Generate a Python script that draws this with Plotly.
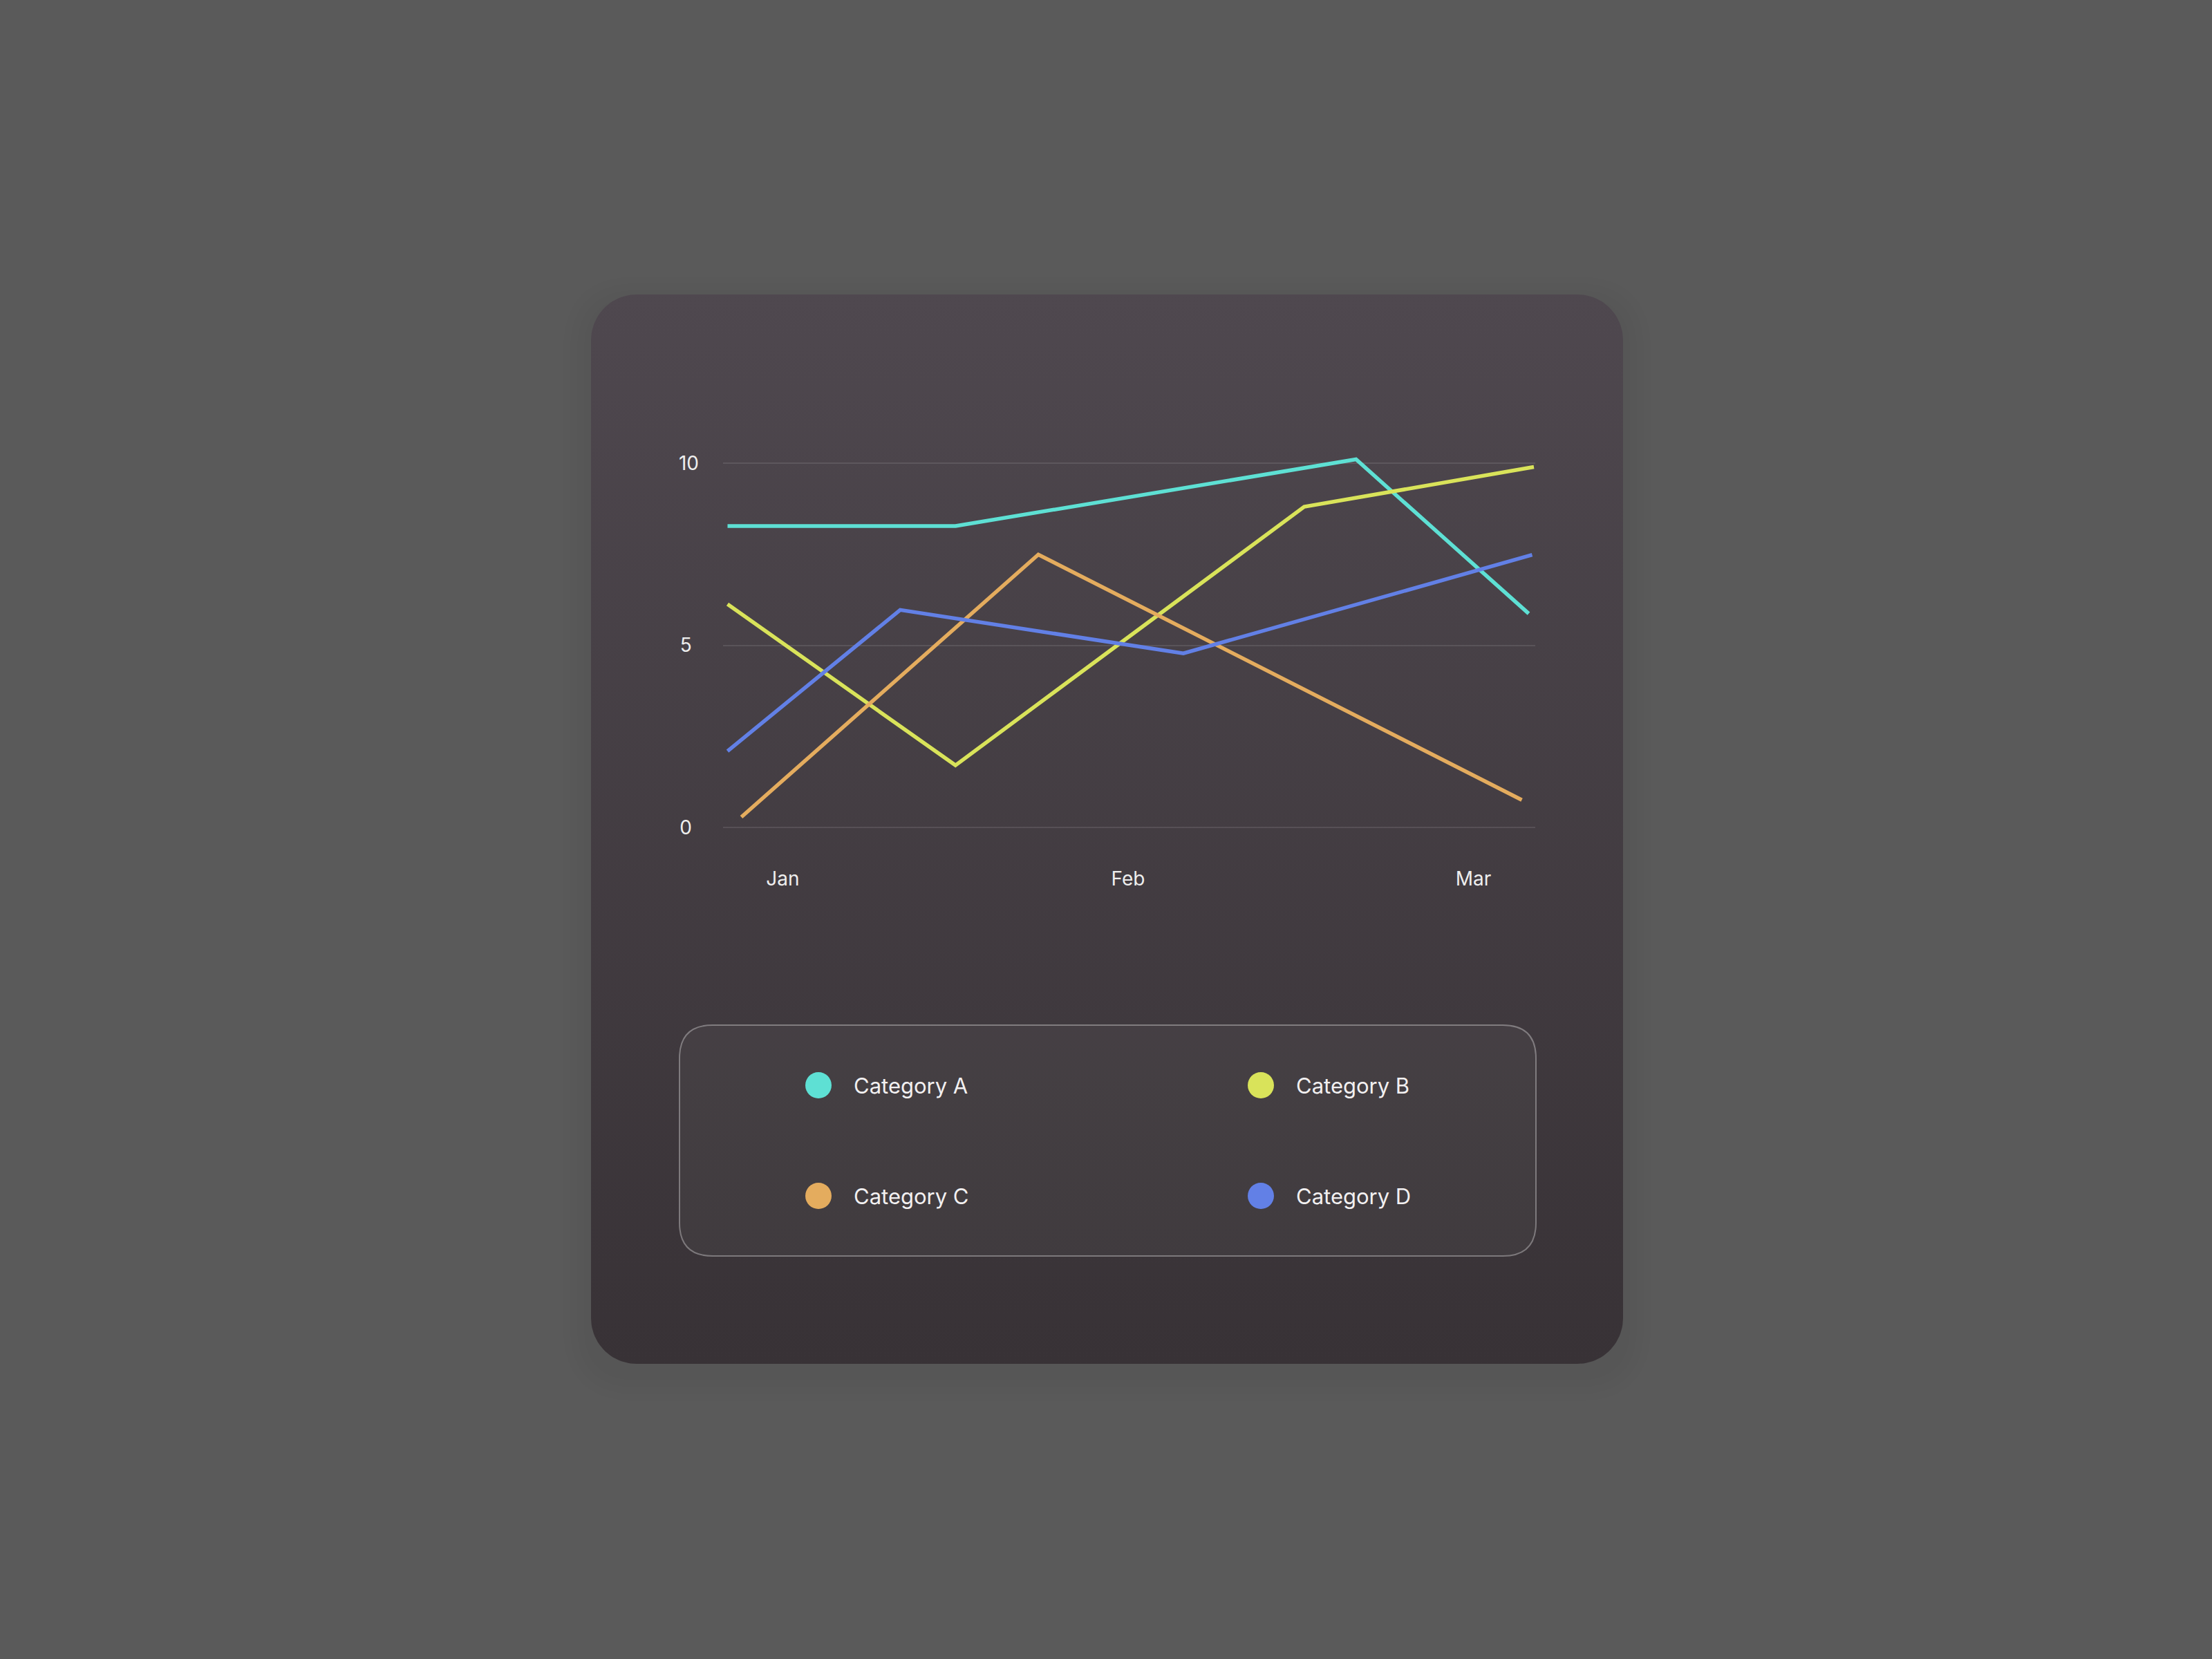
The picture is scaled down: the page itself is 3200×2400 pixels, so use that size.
import numpy as np
import plotly.graph_objects as go

# datos de las series (x en meses: 0 = Jan, 1 = Feb, 2 = Mar)
series_names = ['Category A', 'Category B', 'Category C', 'Category D']
series_colors = ['#5ee0d4', '#d9e35a', '#e4ac5e', '#6280e6']

a_x = [-0.16, 0.50, 1.66, 2.16]
a_y = [8.27, 8.27, 10.10, 5.87]
b_x = [-0.16, 0.50, 1.51, 2.175]
b_y = [6.13, 1.71, 8.80, 9.89]
c_x = [-0.12, 0.74, 2.14]
c_y = [0.29, 7.49, 0.76]
d_x = [-0.16, 0.34, 1.16, 2.17]
d_y = [2.10, 5.97, 4.78, 7.48]

month_vals = [0, 1, 2]
month_labels = ['Jan', 'Feb', 'Mar']
y_vals = [0, 5, 10]
y_labels = ['0\u2009\u2009', '5\u2009\u2009', '10']

W, H = 3200, 2400
FONT = 'Inter'


def rr_points(x0, y0, x1, y1, r, n=24):
    # contorno de rectangulo redondeado (coordenadas de imagen)
    pts = []
    corners = [(x1 - r, y0 + r, -90, 0), (x1 - r, y1 - r, 0, 90),
               (x0 + r, y1 - r, 90, 180), (x0 + r, y0 + r, 180, 270)]
    for cx, cy, a0, a1 in corners:
        t = np.radians(np.linspace(a0, a1, n))
        pts += list(zip(cx + r * np.cos(t), cy + r * np.sin(t)))
    pts.append(pts[0])
    xs = [p[0] for p in pts]
    ys = [H - p[1] for p in pts]
    return xs, ys


def rr_path(x0, y0, x1, y1, r):
    # path SVG con curvas Q, y invertida para el eje de la tarjeta
    Y = lambda v: H - v
    return (f'M {x0 + r} {Y(y0)} L {x1 - r} {Y(y0)} Q {x1} {Y(y0)} {x1} {Y(y0 + r)} '
            f'L {x1} {Y(y1 - r)} Q {x1} {Y(y1)} {x1 - r} {Y(y1)} '
            f'L {x0 + r} {Y(y1)} Q {x0} {Y(y1)} {x0} {Y(y1 - r)} '
            f'L {x0} {Y(y0 + r)} Q {x0} {Y(y0)} {x0 + r} {Y(y0)} Z')


fig = go.Figure()

# tarjeta con degradado
card = (855, 426, 2348, 1973)
cx, cy = rr_points(*card, 66)
fig.add_trace(go.Scatter(
    x=cx, y=cy, mode='lines', fill='toself', line=dict(width=0),
    fillgradient=dict(type='vertical', start=H - card[3], stop=H - card[1],
                      colorscale=[[0, '#383236'], [1, '#4f484f']]),
    hoverinfo='skip', showlegend=False, xaxis='x', yaxis='y'))

# lineas
for name, color, xs, ys in zip(series_names, series_colors,
                               [a_x, b_x, c_x, d_x], [a_y, b_y, c_y, d_y]):
    fig.add_trace(go.Scatter(
        x=xs, y=ys, mode='lines', name=name,
        line=dict(color=color, width=5.5),
        showlegend=False, xaxis='x2', yaxis='y2'))

shapes = []
# sombra muy suave de la tarjeta
for i in range(1, 5):
    g = i * 10
    shapes.append(dict(type='path', xref='x', yref='y', layer='below',
                       path=rr_path(card[0] - g, card[1] - g + 14, card[2] + g, card[3] + g + 14, 66 + g),
                       fillcolor='rgba(0,0,0,0.008)', line=dict(width=0)))

# caja de la leyenda
box = (983, 1483, 2222, 1817)
shapes.append(dict(type='path', xref='x', yref='y', layer='above',
                   path=rr_path(*box, 48),
                   fillcolor='rgba(255,255,255,0.035)',
                   line=dict(color='rgba(255,255,255,0.33)', width=2)))

annotations = []
legend_pos = [(1184, 1570), (1824, 1570), (1184, 1730), (1824, 1730)]
for name, color, (px, py) in zip(series_names, series_colors, legend_pos):
    r = 19
    shapes.append(dict(type='circle', xref='x', yref='y', layer='above',
                       x0=px - r, x1=px + r, y0=H - py - r, y1=H - py + r,
                       fillcolor=color, line=dict(width=0)))
    annotations.append(dict(x=px + 49, y=H - py, xref='x', yref='y', text=name,
                            showarrow=False, xanchor='left', yanchor='middle',
                            font=dict(family=FONT, size=31, color='#f2f0f1')))

fig.update_layout(
    width=W, height=H,
    margin=dict(l=0, r=0, t=0, b=0),
    paper_bgcolor='#5a5a5a',
    plot_bgcolor='rgba(0,0,0,0)',
    showlegend=False,
    hovermode=False,
    shapes=shapes,
    annotations=annotations,
    xaxis=dict(domain=[0, 1], range=[0, W], visible=False, fixedrange=True),
    yaxis=dict(domain=[0, 1], range=[0, H], visible=False, fixedrange=True),
    xaxis2=dict(domain=[1046 / W, 2221 / W], range=[-0.173, 2.179], anchor='y2',
                tickvals=month_vals, ticktext=month_labels, showgrid=False,
                zeroline=False, showline=False, ticks='', ticklabelstandoff=28,
                tickfont=dict(family=FONT, size=28, color='#eeeeee')),
    yaxis2=dict(domain=[1 - 1223.7 / H, 1 - 643.4 / H], range=[-0.5, 10.5], anchor='x2',
                tickvals=y_vals, ticktext=y_labels, showgrid=True,
                gridcolor='rgba(255,255,255,0.1)', gridwidth=2,
                zeroline=False, showline=False, ticks='', ticklabelstandoff=34,
                tickfont=dict(family=FONT, size=28, color='#eeeeee')),
)

fig.write_html('out.html', config={'displayModeBar': False},
               post_script="document.body.style.margin='0';")
